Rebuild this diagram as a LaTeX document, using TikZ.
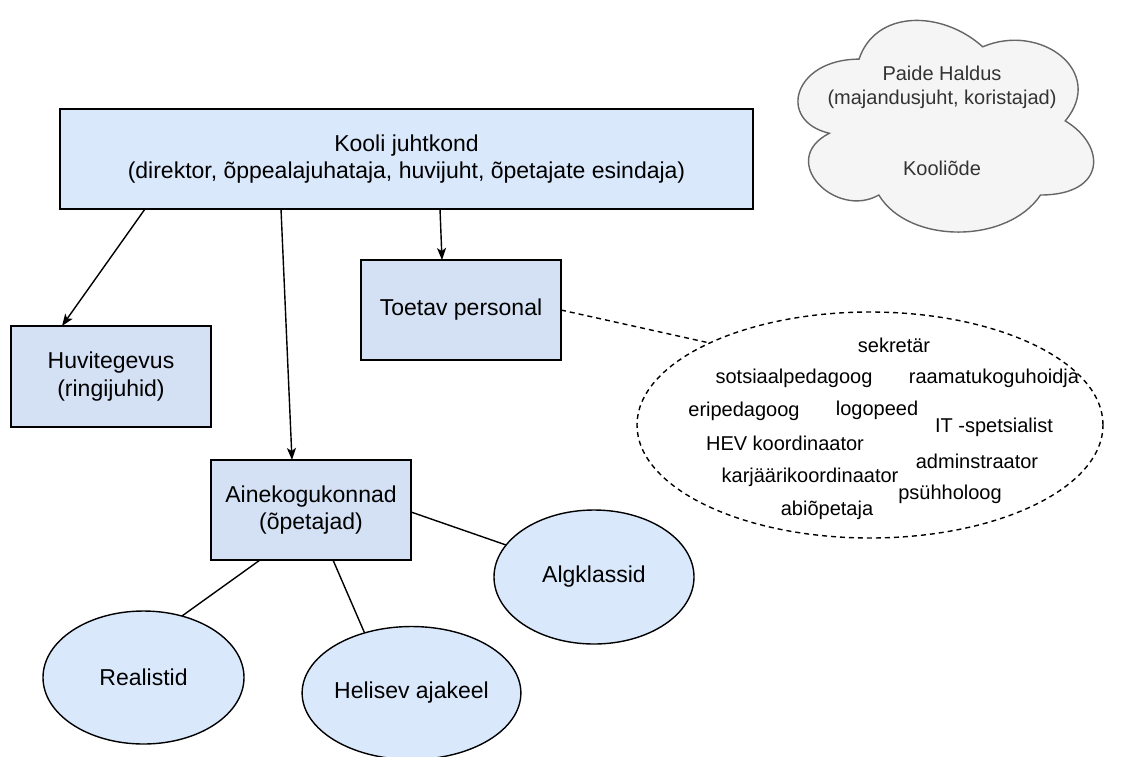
\documentclass[tikz,border=0pt]{standalone}
\usepackage{fontspec}
\setmainfont{Liberation Sans}
\usetikzlibrary{arrows.meta,shapes.geometric}
\definecolor{kfill}{HTML}{DAE8FC}
\definecolor{bfill}{HTML}{D4E1F5}
\definecolor{cfill}{HTML}{F5F5F5}
\definecolor{cline}{HTML}{666666}
\definecolor{ctext}{HTML}{333333}
\tikzset{
  boxnode/.style={draw=black, line width=1.4pt, fill=bfill, inner sep=0pt, outer sep=0pt,
    align=center, font=\fontsize{23}{27.6}\selectfont, minimum width=200pt, minimum height=100pt},
  ellnode/.style={ellipse, draw=black, line width=1.4pt, fill=kfill, inner sep=0pt, outer sep=0pt,
    font=\fontsize{23}{27.6}\selectfont, minimum width=200pt, minimum height=133pt},
  stafftext/.style={font=\fontsize{20}{24}\selectfont, inner sep=0pt},
  arr/.style={line width=1.4pt, -{Stealth[length=12pt,width=9pt,inset=3pt]}},
  conn/.style={line width=1.4pt},
  dashconn/.style={line width=1.4pt, dash pattern=on 5pt off 4pt}
}
\begin{document}
\begin{tikzpicture}[x=1pt,y=-1pt]
\useasboundingbox (0,0) rectangle (1129,756);
\clip (0,0) rectangle (1129,756);
\fill[white] (0,0) rectangle (1129,756);

% cloud
\begin{scope}[shift={(776.5,-2.6)}, x=330pt, y=-247pt]
\draw[fill=cfill, draw=cline, line width=1.4pt]
  (0.25,0.25) .. controls (0.05,0.25) and (0,0.5) .. (0.16,0.55)
  .. controls (0,0.66) and (0.18,0.9) .. (0.31,0.8)
  .. controls (0.4,1) and (0.7,1) .. (0.8,0.8)
  .. controls (1,0.8) and (1,0.6) .. (0.875,0.5)
  .. controls (1,0.3) and (0.8,0.1) .. (0.625,0.2)
  .. controls (0.5,0.05) and (0.3,0.05) .. (0.25,0.25) -- cycle;
\end{scope}
\node[align=center, text=ctext, font=\fontsize{20}{23.8}\selectfont, inner sep=0pt] (cloudtxt) at (942,121)
  {Paide Haldus\\(majandusjuht, koristajad)\\[23.8pt]\\Kooliõde};

% boxes
\node[boxnode, fill=kfill, minimum width=693pt] (kooli) at (406.5,159)
  {Kooli juhtkond\\(direktor, õppealajuhataja, huvijuht, õpetajate esindaja)};
\node[boxnode, minimum height=101pt] (huvi) at (111,376.5) {Huvitegevus\\(ringijuhid)};
\node[boxnode] (toetav) at (461,310) {Toetav personal};
\node[boxnode] (aine) at (311,510) {Ainekogukonnad\\(õpetajad)};

% ellipses
\node[ellnode, minimum width=201pt] (real) at (143.5,677.5) {Realistid};
\node[ellnode, minimum width=201pt] (hel) at (411.5,693) {Helisev ajakeel};
\node[ellnode, minimum height=134pt] (alg) at (594,577) {Algklassid};

% staff ellipse
\node[ellipse, draw=black, line width=1.4pt, dash pattern=on 5pt off 4pt, fill=white,
  minimum width=466pt, minimum height=226pt, inner sep=0pt] (staff) at (870,425) {};
\node[stafftext] (s1) at (894,345) {sekretär};
\node[stafftext] (s2) at (794,378) {sotsiaalpedagoog};
\node[stafftext] (s3) at (994,378) {raamatukoguhoidja};
\node[stafftext] (s4) at (744,411) {eripedagoog};
\node[stafftext] (s5) at (877,410) {logopeed};
\node[stafftext] (s6) at (994,427) {IT -spetsialist};
\node[stafftext] (s7) at (785,443) {HEV koordinaator};
\node[stafftext] (s8) at (977,461) {adminstraator};
\node[stafftext] (s9) at (810,477) {karjäärikoordinaator};
\node[stafftext] (s10) at (950,494) {psühholoog};
\node[stafftext] (s11) at (827,510) {abiõpetaja};

% connectors
\draw[arr] ([xshift=85pt]kooli.south west) -- ([xshift=51pt]huvi.north west);
\draw[arr] ([xshift=221pt]kooli.south west) -- ([xshift=-19pt]aine.north);
\draw[arr] ([xshift=380pt]kooli.south west) -- ([xshift=-19pt]toetav.north);
\draw[dashconn] (toetav.east) -- (staff.153.6);
\draw[conn] ([yshift=-2pt]aine.east) -- (alg.160);
\draw[conn] ([xshift=-51pt]aine.south) -- (real.58);
\draw[conn] ([xshift=22pt]aine.south) -- (hel.128);
\end{tikzpicture}
\end{document}
